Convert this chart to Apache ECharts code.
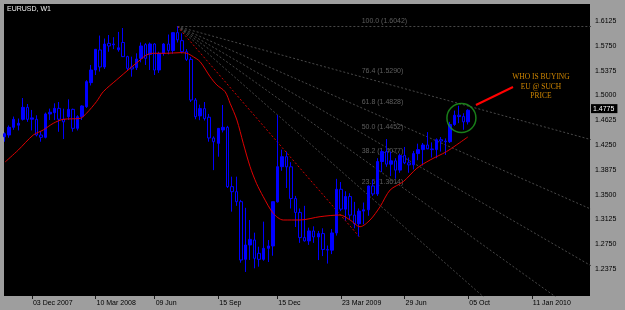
<!DOCTYPE html>
<html>
<head>
<meta charset="utf-8">
<title>EURUSD, W1</title>
<script src="https://cdn.jsdelivr.net/npm/echarts@6/dist/echarts.min.js"></script>
<style>
  html, body { margin: 0; padding: 0; background: #9e9e9e; }
  #chart { width: 625px; height: 310px; }
</style>
</head>
<body>
<div id="chart"></div>
<script>
// weekly bars, first bar = week of 22 Oct 2007, last = week of 05 Oct 2009
const opens = [
  1.4375, 1.4401, 1.4517, 1.4550, 1.4638, 1.4819, 1.4640, 1.4638, 1.4401, 1.4366,
  1.4719, 1.4739, 1.4804, 1.4640, 1.4678, 1.4789, 1.4502, 1.4678, 1.4830, 1.5193,
  1.5384, 1.5687, 1.5430, 1.5787, 1.5765, 1.5690, 1.5800, 1.5586, 1.5430, 1.5420,
  1.5560, 1.5767, 1.5620, 1.5777, 1.5384, 1.5636, 1.5777, 1.5680, 1.5949, 1.5828,
  1.5661, 1.5545, 1.4930, 1.4690, 1.4800, 1.4670, 1.4356, 1.4275, 1.4477, 1.4517,
  1.3620, 1.3544, 1.3393, 1.2521, 1.2738, 1.2813, 1.2612, 1.2521, 1.2687, 1.2723,
  1.3390, 1.3922, 1.4073, 1.3920, 1.3440, 1.3230, 1.2850, 1.2800, 1.2950, 1.2860,
  1.2910, 1.2670, 1.2660, 1.2920, 1.3580, 1.3280, 1.3470, 1.3190, 1.3060, 1.3250,
  1.3270, 1.3630, 1.3510, 1.4000, 1.4150, 1.3960, 1.4010, 1.3870, 1.4090, 1.3980,
  1.3950, 1.4120, 1.4180, 1.4250, 1.4190, 1.4180, 1.4330, 1.4310, 1.4300, 1.4560,
  1.4700, 1.4680, 1.4600
];
const highs = [
  1.4440, 1.4545, 1.4680, 1.4650, 1.4960, 1.4870, 1.4780, 1.4700, 1.4460, 1.4740,
  1.4800, 1.4880, 1.4900, 1.4800, 1.4940, 1.4800, 1.4700, 1.4850, 1.5230, 1.5460,
  1.5700, 1.5905, 1.5860, 1.5913, 1.5880, 1.5960, 1.6019, 1.5600, 1.5586, 1.5636,
  1.5800, 1.5790, 1.5800, 1.5790, 1.5661, 1.5790, 1.5920, 1.5949, 1.6042, 1.5938,
  1.5700, 1.5580, 1.4960, 1.4860, 1.4900, 1.4720, 1.4380, 1.4480, 1.4855, 1.4540,
  1.3771, 1.3771, 1.3420, 1.3300, 1.3116, 1.2924, 1.2712, 1.3091, 1.2813, 1.3393,
  1.4704, 1.4180, 1.4150, 1.3990, 1.3480, 1.3290, 1.3330, 1.3000, 1.3020, 1.2950,
  1.2990, 1.2730, 1.2980, 1.3738, 1.3690, 1.3550, 1.3520, 1.3390, 1.3290, 1.3380,
  1.3640, 1.3730, 1.4050, 1.4180, 1.4340, 1.4150, 1.4050, 1.4120, 1.4220, 1.4060,
  1.4160, 1.4270, 1.4280, 1.4445, 1.4290, 1.4350, 1.4370, 1.4350, 1.4600, 1.4770,
  1.4843, 1.4730, 1.4790
];
const lows = [
  1.4300, 1.4360, 1.4480, 1.4470, 1.4620, 1.4600, 1.4470, 1.4380, 1.4300, 1.4350,
  1.4628, 1.4628, 1.4450, 1.4340, 1.4628, 1.4451, 1.4470, 1.4628, 1.4810, 1.5150,
  1.5308, 1.5360, 1.5400, 1.5660, 1.5700, 1.5661, 1.5586, 1.5384, 1.5283, 1.5384,
  1.5500, 1.5460, 1.5384, 1.5308, 1.5340, 1.5600, 1.5620, 1.5630, 1.5800, 1.5636,
  1.5520, 1.4900, 1.4640, 1.4625, 1.4620, 1.4300, 1.3870, 1.4073, 1.4440, 1.3600,
  1.3242, 1.3330, 1.2470, 1.2330, 1.2511, 1.2385, 1.2410, 1.2500, 1.2480, 1.2575,
  1.3380, 1.3860, 1.3600, 1.3290, 1.3010, 1.2770, 1.2790, 1.2740, 1.2770, 1.2510,
  1.2570, 1.2457, 1.2600, 1.2880, 1.3250, 1.3110, 1.3130, 1.2990, 1.2866, 1.3050,
  1.3180, 1.3480, 1.3480, 1.3840, 1.3920, 1.3780, 1.3740, 1.3830, 1.3960, 1.3830,
  1.3880, 1.4020, 1.3940, 1.4200, 1.4060, 1.4050, 1.4150, 1.4100, 1.4280, 1.4540,
  1.4580, 1.4480, 1.4560
];
const closes = [
  1.4420, 1.4517, 1.4638, 1.4578, 1.4819, 1.4638, 1.4660, 1.4401, 1.4366, 1.4719,
  1.4745, 1.4804, 1.4640, 1.4600, 1.4789, 1.4502, 1.4678, 1.4840, 1.5208, 1.5384,
  1.5697, 1.5430, 1.5777, 1.5747, 1.5777, 1.5720, 1.5586, 1.5409, 1.5400, 1.5550,
  1.5747, 1.5560, 1.5777, 1.5384, 1.5636, 1.5777, 1.5680, 1.5949, 1.5840, 1.5661,
  1.5545, 1.4930, 1.4678, 1.4800, 1.4650, 1.4356, 1.4300, 1.4502, 1.4517, 1.3620,
  1.3544, 1.3393, 1.2511, 1.2738, 1.2823, 1.2536, 1.2521, 1.2687, 1.2723, 1.3393,
  1.3922, 1.4073, 1.3920, 1.3440, 1.3230, 1.2850, 1.2800, 1.2950, 1.2860, 1.2910,
  1.2670, 1.2660, 1.2920, 1.3580, 1.3280, 1.3470, 1.3190, 1.3060, 1.3250, 1.3270,
  1.3630, 1.3510, 1.4000, 1.4150, 1.3960, 1.4010, 1.3870, 1.4090, 1.3980, 1.3950,
  1.4120, 1.4180, 1.4250, 1.4190, 1.4180, 1.4330, 1.4310, 1.4300, 1.4560, 1.4700,
  1.4680, 1.4600, 1.4775
];

// date labels under the chart and the bar each belongs to
const dateLabels = ['03 Dec 2007', '10 Mar 2008', '09 Jun', '15 Sep', '15 Dec',
  '23 Mar 2009', '29 Jun', '05 Oct', '11 Jan 2010'];
const dateLabelBars = [6, 20, 33, 47, 60, 74, 88, 102, 116];

// price scale
const priceTicks = [1.2375, 1.2750, 1.3125, 1.3500, 1.3875, 1.4250, 1.4625,
  1.5000, 1.5375, 1.5750, 1.6125];
const lastPrice = 1.4775;

// red moving average as [bar, price]
const maPoints = [
  [0.1, 1.3993], [3.0, 1.4174], [6.3, 1.4401], [8.5, 1.4477], [10.7, 1.4578],
  [12.9, 1.4638], [16.6, 1.4653], [18.0, 1.4729], [20.2, 1.4905], [21.7, 1.5056],
  [24.6, 1.5233], [27.6, 1.5410], [29.8, 1.5535], [31.2, 1.5611], [32.7, 1.5637],
  [35.6, 1.5637], [38.6, 1.5646], [40.1, 1.5637], [41.5, 1.5585], [43.0, 1.5510],
  [45.2, 1.5283], [46.7, 1.5157], [48.5, 1.5056], [49.6, 1.4881], [51.1, 1.4628],
  [52.5, 1.4276], [54.0, 1.3922], [55.4, 1.3671], [56.9, 1.3468], [59.1, 1.3217],
  [61.3, 1.3116], [65.0, 1.3116], [69.4, 1.3166], [73.8, 1.3191], [76.0, 1.3116],
  [78.2, 1.3014], [80.4, 1.3116], [82.6, 1.3317], [84.8, 1.3569], [87.7, 1.3695],
  [90.7, 1.3898], [93.6, 1.4023], [97.2, 1.4149], [99.4, 1.4250], [101.9, 1.4371]
];

// fibonacci fan: high of 14 Jul 2008 down to low of 20 Apr 2009
const fanFrom = [38, 1.6042];
const fanTo = [78, 1.2866];
const fanLevels = [23.6, 38.2, 50.0, 61.8, 76.4, 100.0];
const fanPrices = [1.3614, 1.4077, 1.4452, 1.4828, 1.5290, 1.6042];

// hand-drawn notes
const noteText = 'WHO IS BUYING\nEU @ SUCH\nPRICE';
const notePos = [118.0, 1.5127];
const circlePos = [100.5, 1.4658];
const arrowFrom = [111.85, 1.5127];
const arrowTo = [103.7, 1.4855];

const font = 'Liberation Sans, Arial, sans-serif';
const bars = opens.map((o, i) => [i, o, closes[i], lows[i], highs[i]]);

const fanSeries = fanLevels.map((lvl, k) => {
  const farX = 140;
  const slope = (fanPrices[k] - fanFrom[1]) / (fanTo[0] - fanFrom[0]);
  return {
    type: 'line',
    name: 'fan ' + lvl,
    symbol: 'none',
    silent: true,
    z: 1,
    lineStyle: {color: '#484848', width: 1, type: [2, 2]},
    data: [fanFrom, [farX, fanFrom[1] + slope * (farX - fanFrom[0])]],
  };
});

const chart = echarts.init(document.getElementById('chart'), null, {renderer: 'canvas'});

chart.setOption({
  animation: false,
  backgroundColor: '#9e9e9e',
  title: {
    text: 'EURUSD, W1',
    left: 7,
    top: 6,
    padding: 0,
    textStyle: {color: '#f0f0f0', fontSize: 7, fontWeight: 'normal', fontFamily: font},
  },
  grid: {
    left: 4,
    top: 4,
    width: 586,
    height: 292,
    show: true,
    backgroundColor: '#000',
    borderWidth: 0,
    containLabel: false,
    outerBoundsMode: 'none',
  },
  xAxis: {
    type: 'value',
    min: -0.144,
    max: 128.79,
    axisLine: {show: false},
    splitLine: {show: false},
    axisTick: {
      show: true,
      customValues: dateLabelBars,
      length: 3,
      lineStyle: {color: '#1a1a1a'},
    },
    axisLabel: {
      customValues: dateLabelBars,
      formatter: (v) => dateLabels[dateLabelBars.indexOf(v)] || '',
      align: 'left',
      margin: 4,
      padding: [0, 0, 0, 1],
      color: '#000',
      fontSize: 7,
      fontFamily: font,
    },
  },
  yAxis: {
    type: 'value',
    position: 'right',
    min: 1.19665,
    max: 1.63821,
    axisLine: {show: false},
    axisTick: {show: false},
    splitLine: {show: false},
    axisLabel: {
      customValues: priceTicks,
      formatter: (v) => v.toFixed(4),
      margin: 5,
      color: '#000',
      fontSize: 7,
      fontFamily: font,
    },
  },
  series: [
    ...fanSeries,
    {
      type: 'line',
      name: 'fan base',
      symbol: 'none',
      silent: true,
      z: 1,
      lineStyle: {color: '#d00000', width: 1, type: [2, 2]},
      data: [fanFrom, fanTo],
    },
    {
      type: 'scatter',
      name: 'fan labels',
      silent: true,
      z: 1,
      symbolSize: 1,
      itemStyle: {color: 'rgba(0,0,0,0)'},
      label: {
        show: true,
        position: 'right',
        distance: 2,
        offset: [0, -5],
        formatter: (p) => fanLevels[p.dataIndex].toFixed(1) + ' (' + fanPrices[p.dataIndex].toFixed(4) + ')',
        color: '#747474',
        fontSize: 7,
        fontFamily: font,
      },
      data: fanPrices.map((p) => [fanTo[0], p]),
    },
    {
      type: 'candlestick',
      name: 'EURUSD',
      z: 3,
      barWidth: 3,
      itemStyle: {
        color: '#0000ff',
        color0: '#000000',
        borderColor: '#0000ff',
        borderColor0: '#0000ff',
        borderWidth: 1,
      },
      data: bars,
      markLine: {
        silent: true,
        symbol: 'none',
        lineStyle: {color: 'rgba(0,0,0,0)', width: 1},
        label: {
          show: true,
          position: 'end',
          distance: 1,
          formatter: lastPrice.toFixed(4),
          color: '#fff',
          backgroundColor: '#000',
          opacity: 1,
          padding: [1, 3, 1, 2],
          fontSize: 7,
          fontFamily: font,
        },
        data: [{yAxis: lastPrice}],
      },
    },
    {
      type: 'line',
      name: 'MA',
      symbol: 'none',
      silent: true,
      z: 4,
      smooth: 0.3,
      lineStyle: {color: '#e00000', width: 1},
      data: maPoints,
    },
    {
      type: 'scatter',
      name: 'circle',
      silent: true,
      z: 5,
      symbol: 'circle',
      symbolSize: 29,
      itemStyle: {color: 'rgba(0,0,0,0)', borderColor: '#1f9e1f', borderWidth: 1.5},
      data: [circlePos],
      markLine: {
        silent: true,
        symbol: ['none', 'arrow'],
        symbolSize: [0, 8],
        lineStyle: {color: '#ff0000', width: 2, type: 'solid'},
        label: {show: false},
        data: [[{coord: arrowFrom}, {coord: arrowTo}]],
      },
    },
    {
      type: 'scatter',
      name: 'note',
      silent: true,
      z: 5,
      symbolSize: 1,
      itemStyle: {color: 'rgba(0,0,0,0)'},
      label: {
        show: true,
        position: 'inside',
        formatter: noteText,
        align: 'center',
        color: '#ffa500',
        fontSize: 7.5,
        lineHeight: 9.5,
        fontFamily: 'Liberation Serif, Times New Roman, serif',
      },
      data: [notePos],
    },
  ],
});
</script>
</body>
</html>
